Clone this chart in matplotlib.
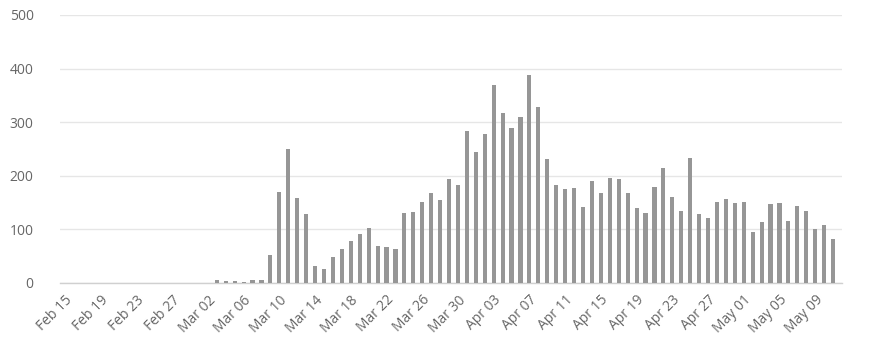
import datetime as dt
import matplotlib
matplotlib.use("Agg")
import matplotlib.pyplot as plt
import numpy as np

start = dt.date(2020, 2, 15)
n_days = 87
dates = [start + dt.timedelta(days=i) for i in range(n_days)]
labels = [d.strftime("%b %d") for d in dates]

values = [
    # Feb 15 - Feb 29
    0, 0, 0, 0, 0, 0, 0, 0, 0, 0, 0, 0, 0, 0, 0,
    # Mar 1 - Mar 31
    0, 0, 5, 3, 3, 1, 6, 6, 53, 170, 250, 158, 128, 32, 27, 48, 63, 79, 92, 102,
    69, 67, 64, 131, 133, 152, 168, 154, 194, 182, 283,
    # Apr 1 - Apr 30
    245, 278, 370, 317, 289, 310, 388, 329, 231, 182, 175, 177, 142, 191, 168,
    196, 194, 168, 140, 131, 180, 215, 161, 135, 234, 128, 121, 151, 156, 149,
    # May 1 - May 11
    151, 95, 114, 147, 149, 116, 144, 135, 100, 109, 83,
]

yticks = [0, 100, 200, 300, 400, 500]

W, H = 870, 344
fig = plt.figure(figsize=(W / 100, H / 100), dpi=100)
ax = fig.add_axes([60 / W, (H - 283) / H, (842 - 60) / W, (283 - 15) / H])

x = np.arange(n_days)
ax.bar(x, values, width=0.46, color="#969696", zorder=3)

ax.set_ylim(0, 500)
ax.set_xlim(-0.56, n_days - 0.0)
ax.set_yticks(yticks)
ax.set_yticklabels([str(v) for v in yticks], color="#666666", fontsize=10,
                   family="Open Sans")
ax.yaxis.grid(True, color="#e6e6e6", linewidth=1.0, zorder=0)
ax.tick_params(axis="y", length=0, pad=19)

tick_idx = list(range(0, n_days, 4))
ax.set_xticks(tick_idx)
ax.set_xticklabels([labels[i] for i in tick_idx], rotation=45, ha="right",
                   rotation_mode="anchor", color="#666666", fontsize=10,
                   family="Open Sans")
ax.tick_params(axis="x", length=0, pad=7)

for s in ["top", "right", "left"]:
    ax.spines[s].set_visible(False)
ax.spines["bottom"].set_color("#d0d0d0")
ax.spines["bottom"].set_linewidth(1.0)
ax.set_axisbelow(True)

fig.savefig("out.png", dpi=100, facecolor="white")
